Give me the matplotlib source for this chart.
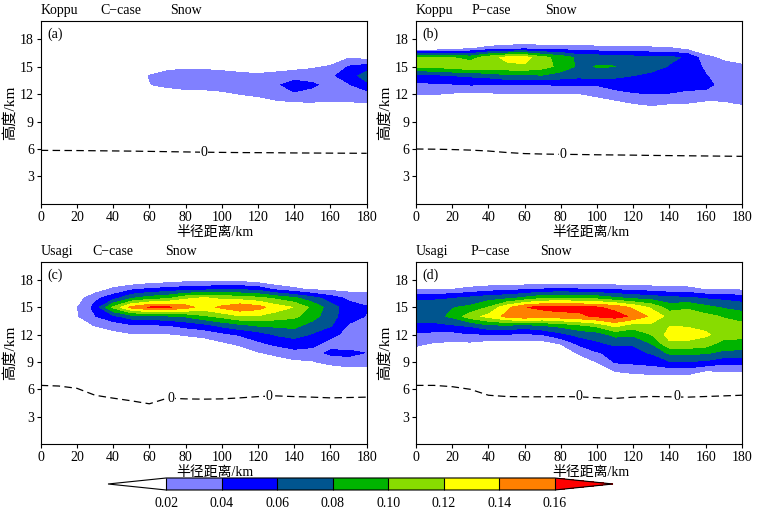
import numpy as np
import matplotlib
matplotlib.use("Agg")
import matplotlib.pyplot as plt
from matplotlib.colors import ListedColormap, BoundaryNorm

plt.rcParams['font.family'] = ['Liberation Serif', 'Noto Sans CJK SC']

# ---------------------------------------------------------------------------
# Data
# ---------------------------------------------------------------------------

# radius of each vertical profile (km) and heights inside a profile (km)
radius = [0, 10, 20, 30, 40, 50, 60, 70, 80, 90, 100, 110, 120, 130, 140, 150, 160, 170, 180]
height = [7, 8, 9, 10, 11, 12, 13, 14, 15, 16, 17, 18, 19]

# snow mixing ratio, one row per radius, values at height[] ; unit 0.01 g/kg
koppu_c = [
    [0, 0, 0, 0, 0, 0, 0, 0, 0, 0, 0, 0, 0],
    [0, 0, 0, 0, 0, 0, 0, 0, 0, 0, 0, 0, 0],
    [0, 0, 0, 0, 0, 0, 0, 0, 0, 0, 0, 0, 0],
    [0, 0, 0, 0, 0, 0, 0, 0, 0, 0, 0, 0, 0],
    [0, 0, 0, 0, 0, 0, 0, 0, 0, 0, 0, 0, 0],
    [0, 0, 0, 0, 0, 0, 0, 0, 0, 0, 0, 0, 0],
    [0, 0, 0, 0, 0, 0.5, 1.9, 2.1, 0, 0, 0, 0, 0],
    [0, 0, 0, 0, 0, 0.5, 2.6, 3.0, 1.2, 0, 0, 0, 0],
    [0, 0, 0, 0, 0, 1.0, 3.0, 3.2, 1.5, 0, 0, 0, 0],
    [0, 0, 0, 0, 0.2, 1.0, 3.1, 3.2, 1.4, 0, 0, 0, 0],
    [0, 0, 0, 0, 0.3, 1.4, 3.4, 3.2, 1.0, 0, 0, 0, 0],
    [0, 0, 0, 0, 0.8, 2.05, 3.4, 3.0, 0.2, 0, 0, 0, 0],
    [0, 0, 0, 0.2, 1.0, 2.4, 3.5, 2.6, 0, 0, 0, 0, 0],
    [0, 0, 0, 0.3, 1.5, 3.0, 3.8, 3.0, 0.5, 0, 0, 0, 0],
    [0, 0, 0, 0.3, 1.7, 3.8, 4.6, 3.4, 1.0, 0, 0, 0, 0],
    [0, 0, 0, 0.4, 1.8, 3.6, 4.2, 3.4, 1.6, 0, 0, 0, 0],
    [0, 0, 0, 0.3, 1.7, 3.0, 3.6, 3.6, 2.2, 0.5, 0, 0, 0],
    [0, 0, 0, 0.4, 1.8, 3.2, 3.8, 5.0, 4.1, 1.8, 0, 0, 0],
    [0, 0, 0, 0.5, 1.9, 3.0, 5.5, 7.0, 4.8, 1.2, 0, 0, 0],
]

koppu_p = [
    [0, 0, 0, 0, 0.5, 2.05, 3.6, 5.2, 10.5, 10.0, 0, 0, 0],
    [0, 0, 0, 0, 0.6, 2.1, 3.7, 5.4, 10.6, 10.0, 0, 0, 0],
    [0, 0, 0, 0, 0.3, 1.8, 3.8, 6.0, 11.0, 10.0, 0.2, 0, 0],
    [0, 0, 0, 0, 0.2, 1.5, 4.05, 6.3, 11.8, 9.0, 1.8, 0, 0],
    [0, 0, 0, 0, 0.3, 1.7, 4.0, 6.6, 11.6, 11.2, 2.5, 0, 0],
    [0, 0, 0, 0, 0.3, 1.9, 3.8, 7.5, 11.5, 12.5, 3.0, 0, 0],
    [0, 0, 0, 0, 0.3, 1.9, 3.8, 7.6, 11.7, 12.8, 3.2, 0, 0],
    [0, 0, 0, 0, 0.3, 1.85, 3.9, 7.8, 10.8, 10.6, 3.0, 0, 0],
    [0, 0, 0, 0, 0.3, 1.8, 4.2, 7.0, 9.4, 9.2, 3.0, 0, 0],
    [0, 0, 0, 0, 0.4, 1.9, 4.1, 6.6, 7.6, 7.4, 2.8, 0, 0],
    [0, 0, 0, 0, 0.6, 2.6, 4.1, 7.0, 8.1, 7.2, 2.6, 0, 0],
    [0, 0, 0, 0.2, 1.4, 3.2, 4.9, 6.4, 8.05, 7.0, 2.6, 0, 0],
    [0, 0, 0, 0.5, 2.05, 3.8, 5.0, 6.0, 7.0, 6.6, 2.6, 0, 0],
    [0, 0, 0, 0.8, 2.4, 4.0, 5.0, 5.6, 6.6, 6.3, 2.3, 0, 0],
    [0, 0, 0, 0.6, 2.1, 3.9, 4.8, 5.3, 5.9, 6.3, 2.2, 0, 0],
    [0, 0, 0, 0.4, 2.0, 3.6, 4.6, 5.0, 5.4, 5.8, 1.2, 0, 0],
    [0, 0, 0, 0.2, 1.5, 3.5, 4.5, 4.1, 3.6, 2.6, 0, 0, 0],
    [0, 0, 0, 0.3, 1.7, 3.0, 3.4, 3.2, 2.8, 1.5, 0, 0, 0],
    [0, 0, 0, 0.6, 2.2, 2.8, 3.0, 2.9, 2.4, 0.8, 0, 0, 0],
]

usagi_c = [
    [0, 0, 0, 0, 0, 0, 0, 0, 0, 0, 0, 0, 0],
    [0, 0, 0, 0, 0, 0, 0, 0, 0, 0, 0, 0, 0],
    [0, 0, 0, 0, 0, 0, 0.8, 1.8, 1.9, 1.0, 0, 0, 0],
    [0, 0, 0, 0, 0, 0.3, 2.1, 3.9, 4.6, 3.5, 0.8, 0, 0],
    [0, 0, 0, 0, 0, 1.3, 2.8, 5.5, 10.4, 5.2, 2.3, 0, 0],
    [0, 0, 0, 0, 0.3, 1.8, 3.6, 7.0, 14.6, 7.8, 3.5, 0, 0],
    [0, 0, 0, 0, 0, 1.8, 3.7, 7.2, 16.2, 9.0, 4.2, 0.5, 0],
    [0, 0, 0, 0, 0, 1.8, 3.9, 7.6, 16.4, 9.6, 4.6, 0.8, 0],
    [0, 0, 0, 0, 0.5, 2.2, 4.6, 8.2, 14.8, 11.6, 5.0, 1.2, 0],
    [0, 0, 0, 0, 0.8, 2.6, 5.2, 9.6, 13.2, 12.3, 5.2, 1.2, 0],
    [0, 0, 0, 0, 1.6, 3.4, 6.5, 10.6, 14.4, 11.6, 5.6, 1.4, 0],
    [0, 0, 0, 0.6, 2.4, 4.2, 7.4, 11.8, 15.6, 11.2, 5.6, 1.2, 0],
    [0, 0, 0, 1.8, 3.6, 5.0, 8.2, 11.8, 14.8, 10.6, 5.2, 0.6, 0],
    [0, 0, 0.8, 2.6, 4.4, 6.2, 8.4, 11.0, 13.0, 9.6, 3.4, 0, 0],
    [0, 0, 1.5, 3.4, 4.9, 6.8, 8.6, 10.4, 11.9, 8.4, 2.4, 0, 0],
    [0, 0, 1.8, 3.2, 4.6, 5.8, 7.2, 8.8, 9.5, 6.8, 1.6, 0, 0],
    [0, 0.2, 2.8, 4.4, 3.2, 4.6, 6.2, 6.8, 7.0, 5.0, 1.4, 0, 0],
    [0, 0.8, 3.4, 4.4, 3.0, 3.3, 3.8, 4.8, 4.8, 3.6, 1.2, 0, 0],
    [0, 0.7, 3.2, 3.95, 3.0, 3.2, 3.5, 3.9, 4.1, 3.3, 1.0, 0, 0],
]

usagi_p = [
    [0, 0, 0, 1.0, 2.4, 3.6, 5.4, 7.2, 7.0, 5.7, 1.6, 0, 0],
    [0, 0, 0, 0.4, 1.8, 3.4, 5.4, 7.3, 7.1, 5.7, 1.6, 0, 0],
    [0, 0, 0, 0.3, 1.6, 3.2, 5.8, 8.4, 7.9, 5.9, 1.9, 0, 0],
    [0, 0, 0, 0.2, 1.6, 3.8, 6.3, 11.2, 8.4, 6.5, 2.5, 0, 0],
    [0, 0, 0, 0, 1.0, 3.8, 7.6, 12.6, 10.1, 7.2, 3.0, 0, 0],
    [0, 0, 0, 0, 1.2, 3.8, 7.8, 14.6, 13.4, 7.5, 3.4, 0, 0],
    [0, 0, 0, 0, 1.0, 3.6, 7.2, 15.6, 15.9, 8.5, 3.6, 0, 0],
    [0, 0, 0, 0, 1.0, 4.0, 8.0, 14.6, 16.6, 9.8, 4.0, 0, 0],
    [0, 0, 0, 0, 2.1, 5.4, 8.6, 15.2, 16.8, 10.0, 4.2, 0, 0],
    [0, 0, 0.2, 2.4, 4.4, 6.6, 9.6, 15.6, 16.5, 9.8, 4.0, 0, 0],
    [0, 0.4, 2.1, 3.8, 5.6, 7.0, 10.6, 16.3, 16.2, 9.4, 3.8, 0, 0],
    [0, 2.1, 4.2, 4.6, 6.4, 8.6, 12.6, 16.8, 15.4, 8.4, 3.6, 0, 0],
    [0.3, 2.6, 4.4, 5.4, 6.2, 8.4, 11.0, 15.6, 13.6, 7.6, 3.4, 0, 0],
    [0.2, 3.0, 4.6, 6.2, 8.0, 10.0, 11.4, 13.6, 11.6, 7.2, 3.0, 0, 0],
    [0.5, 2.8, 5.8, 8.4, 11.6, 12.8, 11.9, 11.3, 9.0, 6.6, 2.6, 0, 0],
    [0.4, 3.0, 5.9, 8.6, 11.5, 12.9, 11.8, 11.0, 9.7, 6.4, 2.6, 0, 0],
    [0.2, 1.9, 5.6, 8.2, 11.0, 12.3, 11.4, 10.6, 8.6, 5.8, 1.8, 0, 0],
    [0.2, 2.1, 4.6, 7.6, 9.0, 11.2, 10.8, 9.8, 7.7, 5.5, 2.0, 0, 0],
    [0.1, 2.2, 4.6, 7.6, 8.8, 11.0, 10.6, 9.0, 7.2, 5.0, 1.6, 0, 0],
]

# height of the 0 degC isotherm (km) at each radius
zero_a = [5.85, 5.84, 5.83, 5.81, 5.79, 5.77, 5.74, 5.71, 5.68, 5.65,
          5.63, 5.61, 5.60, 5.59, 5.57, 5.56, 5.55, 5.54, 5.53]
zero_b = [6.00, 5.98, 5.94, 5.88, 5.78, 5.62, 5.50, 5.45, 5.42, 5.40,
          5.37, 5.35, 5.33, 5.30, 5.28, 5.26, 5.24, 5.22, 5.20]
zero_c = [6.43, 6.36, 6.11, 5.35, 5.03, 4.74, 4.41, 5.03, 4.95, 4.92,
          4.95, 5.06, 5.20, 5.28, 5.20, 5.14, 5.06, 5.10, 5.14]
zero_d = [6.43, 6.43, 6.29, 6.00, 5.35, 5.21, 5.18, 5.18, 5.20, 5.18,
          5.07, 5.00, 5.14, 5.21, 5.18, 5.14, 5.21, 5.28, 5.35]

# where the "0" contour label sits (km)
zero_label_x = [[90], [81], [72, 126], [90, 144]]

storms = ["Koppu", "Koppu", "Usagi", "Usagi"]
cases = ["C\u2212case", "P\u2212case", "C\u2212case", "P\u2212case"]
panel_tags = ["(a)", "(b)", "(c)", "(d)"]

levels = [0.02, 0.04, 0.06, 0.08, 0.10, 0.12, 0.14, 0.16]
fill_colors = ["#8080ff", "#0000ff", "#00558f", "#00b400",
               "#88dc00", "#ffff00", "#ff8000"]

# ---------------------------------------------------------------------------
# Plot
# ---------------------------------------------------------------------------

snow = [koppu_c, koppu_p, usagi_c, usagi_p]
zero_line = [zero_a, zero_b, zero_c, zero_d]

cmap = ListedColormap(fill_colors)
cmap.set_under("white")
cmap.set_over("#ff0000")
norm = BoundaryNorm(levels, cmap.N)

fig = plt.figure(figsize=(7.58, 5.11), dpi=100)

positions = [[0.0537, 0.6008, 0.430, 0.3587],
             [0.5488, 0.6008, 0.430, 0.3587],
             [0.0537, 0.1311, 0.430, 0.3568],
             [0.5488, 0.1311, 0.430, 0.3568]]
case_x = [0.182, 0.171, 0.160, 0.168]
snow_x = [0.397, 0.396, 0.381, 0.381]

for i in range(4):
    ax = fig.add_axes(positions[i])
    field = np.array(snow[i]).T * 0.01
    cf = ax.contourf(radius, height, field, levels=levels, cmap=cmap,
                     norm=norm, extend="both")

    ax.plot(radius, zero_line[i], color="black", lw=0.9, dashes=(6, 3.5))
    for xl in zero_label_x[i]:
        yl = np.interp(xl, radius, zero_line[i])
        ax.text(xl, yl, "0", ha="center", va="center", fontsize=10,
                bbox=dict(fc="white", ec="none", pad=0.3))

    ax.set_xlim(0, 180)
    ax.set_ylim(0, 20)
    ax.set_xticks(range(0, 181, 20))
    ax.set_yticks(range(3, 19, 3))
    ax.tick_params(direction="out", length=3, width=0.8, labelsize=10, pad=2)
    for sp in ax.spines.values():
        sp.set_linewidth(0.8)

    ax.set_xlabel("半径距离/km", fontsize=10)
    ax.xaxis.set_label_coords(0.535, -0.12)
    ax.set_ylabel("高度/km", fontsize=11, labelpad=2)

    ax.text(0.0, 1.02, storms[i], transform=ax.transAxes, fontsize=10, va="bottom")
    ax.text(case_x[i], 1.02, cases[i], transform=ax.transAxes, fontsize=10, va="bottom")
    ax.text(snow_x[i], 1.02, "Snow", transform=ax.transAxes, fontsize=10, va="bottom")
    ax.text(0.02, 0.965, panel_tags[i], transform=ax.transAxes, fontsize=10, va="top")

# shared colour bar with triangular ends (axes spans both tips)
cax = fig.add_axes([0.1425, 0.0411, 0.6662, 0.0235])
cb = fig.colorbar(cf, cax=cax, orientation="horizontal", ticks=levels,
                  extendfrac=0.15, drawedges=True, format="%.2f")
cb.ax.tick_params(length=0, labelsize=10, pad=5)
cb.outline.set_linewidth(0.8)
cb.dividers.set_linewidth(0.8)

fig.savefig("out.png", dpi=100)
